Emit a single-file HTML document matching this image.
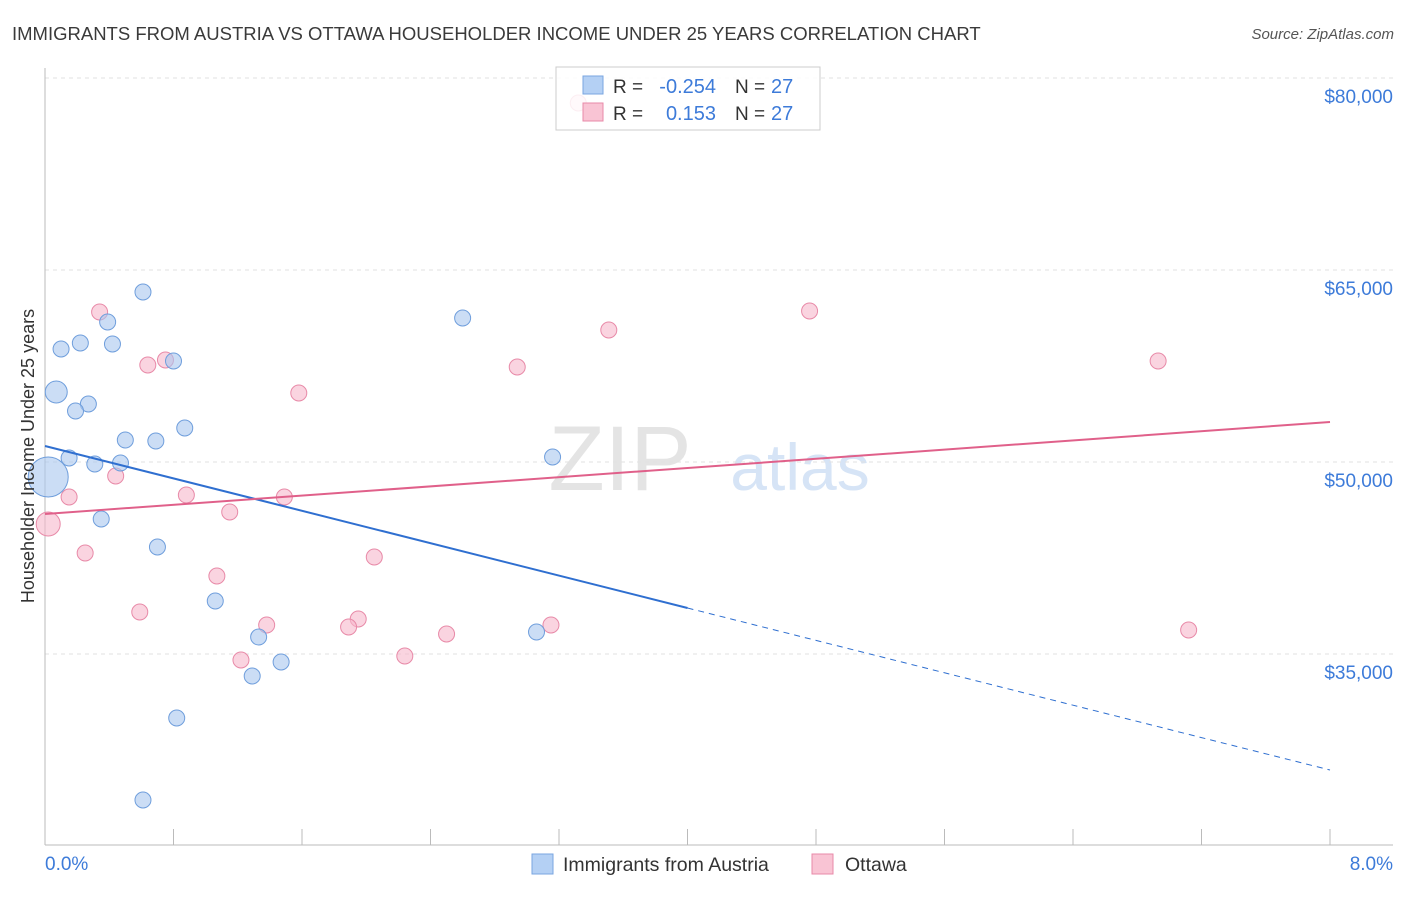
<!DOCTYPE html>
<html><head><meta charset="utf-8"><style>
body{margin:0;background:#fff;font-family:"Liberation Sans",sans-serif}
svg text{font-family:"Liberation Sans",sans-serif}
</style></head><body>
<svg id="c" width="1406" height="892">
<text x="12" y="40" font-size="18.5" fill="#3a3a3a">IMMIGRANTS FROM AUSTRIA VS OTTAWA HOUSEHOLDER INCOME UNDER 25 YEARS CORRELATION CHART</text>
<text x="1394" y="39" font-size="15" font-style="italic" fill="#555" text-anchor="end">Source: ZipAtlas.com</text>
<text x="620" y="490" font-size="92" fill="#e4e4e4" font-family="Liberation Serif" text-anchor="middle">ZIP</text>
<text x="800" y="490" font-size="66" fill="#d6e4f6" text-anchor="middle">atlas</text>
<g id="grid"></g><g id="marks"></g>
<text transform="translate(34,456) rotate(-90)" font-size="18" fill="#333" text-anchor="middle">Householder Income Under 25 years</text>
<text x="45" y="870" font-size="19" fill="#3d7bd9">0.0%</text>
<text x="1393" y="870" font-size="19" fill="#3d7bd9" text-anchor="end">8.0%</text>
<g>
<rect x="556" y="67" width="264" height="63" fill="#fff" fill-opacity="0.85" stroke="#ccc"/>
<rect x="583" y="76" width="20" height="18" fill="#b4d0f4" stroke="#7aa6e0"/>
<rect x="583" y="103" width="20" height="18" fill="#f9c4d4" stroke="#e88aa8"/>
<text x="613" y="93" font-size="19" fill="#333">R =</text>
<text x="716" y="93" font-size="20" fill="#3d7bd9" text-anchor="end">-0.254</text>
<text x="735" y="93" font-size="19" fill="#333">N =</text>
<text x="771" y="93" font-size="20" fill="#3d7bd9">27</text>
<text x="613" y="120" font-size="19" fill="#333">R =</text>
<text x="716" y="120" font-size="20" fill="#3d7bd9" text-anchor="end">0.153</text>
<text x="735" y="120" font-size="19" fill="#333">N =</text>
<text x="771" y="120" font-size="20" fill="#3d7bd9">27</text>
</g>
<g>
<rect x="532" y="854" width="21" height="20" fill="#b4d0f4" stroke="#7aa6e0"/>
<text x="563" y="871" font-size="19.5" fill="#333">Immigrants from Austria</text>
<rect x="812" y="854" width="21" height="20" fill="#f9c4d4" stroke="#e88aa8"/>
<text x="845" y="871" font-size="19.5" fill="#333">Ottawa</text>
</g>
</svg>
<script>
const yTicks=[35000,50000,65000,80000];
const yTickLabels=["$35,000","$50,000","$65,000","$80,000"];
const xTicks=[0,0.8,1.6,2.4,3.2,4.0,4.8,5.6,6.4,7.2,8.0];
const blueX=[0.61,0.39,0.10,0.22,0.42,0.80,0.07,0.27,0.19,0.87,0.50,0.69,0.15,0.31,0.47,0.02,0.35,0.70,1.06,1.33,1.47,1.29,0.82,0.61,2.60,3.16,3.06];
const blueY=[63281,60937,58828,59297,59219,57891,55469,54531,53984,52656,51719,51641,50313,49844,49922,48828,45547,43359,39141,36328,34375,33281,30000,23594,61250,50391,36719];
const blueR=[8,8,8,8,8,8,11,8,8,8,8,8,8,8,8,20,8,8,8,8,8,8,8,8,8,8,8];
const pinkX=[0.34,0.75,0.64,1.58,0.15,0.44,0.88,1.15,1.49,0.02,0.25,1.07,2.05,0.59,1.38,1.95,1.89,1.22,2.24,2.50,3.15,2.94,3.51,4.76,6.93,7.12,3.32];
const pinkY=[61719,57969,57578,55391,47266,48906,47422,46094,47266,45156,42891,41094,42578,38281,37266,37734,37109,34531,34844,36563,37266,57422,60313,61797,57891,36875,78047];
const pinkR=[8,8,8,8,8,8,8,8,8,12,8,8,8,8,8,8,8,8,8,8,8,8,8,8,8,8,8];
const blueLine=[51250,25938]; const blueSolidEnd=4.0;
const pinkLine=[45938,53125];
const X=v=>45+v/8*1285, Y=v=>78+(80000-v)*0.0128;
const NS="http://www.w3.org/2000/svg";
function mk(p,t,a){const e=document.createElementNS(NS,t);for(const k in a)e.setAttribute(k,a[k]);p.appendChild(e);return e;}
const g=document.getElementById('grid'), m=document.getElementById('marks');
yTicks.forEach((v,i)=>{
 const l=mk(g,'line',{x1:45,x2:1393,y1:Y(v),y2:Y(v),stroke:'#e2e2e2','stroke-dasharray':'4,4'});
 
 
 const t=mk(g,'text',{x:1393,y:Y(v)+25,'font-size':19,fill:'#3d7bd9','text-anchor':'end'});t.textContent=yTickLabels[i];
 
 
});
const ya=mk(g,'line',{x1:45,x2:45,y1:68,y2:845,stroke:'#bbb'});


const xa=mk(g,'line',{x1:45,x2:1393,y1:845,y2:845,stroke:'#bbb'});


xTicks.forEach(v=>{const t=mk(g,'line',{x1:X(v),x2:X(v),y1:829,y2:845,stroke:'#bbb'});
 
 });
function pts(xs,ys,rs,fill,stroke,name){xs.forEach((x,i)=>{const c=mk(m,'circle',{cx:X(x),cy:Y(ys[i]),r:rs[i],fill:fill,stroke:stroke,'fill-opacity':0.6,'stroke-width':1});
 
 });}
pts(pinkX,pinkY,pinkR,'#f6b8cb','#e88aa8','ottawa-point');
pts(blueX,blueY,blueR,'#a9c7ef','#6f9edc','austria-point');
const by=x=>blueLine[0]+(blueLine[1]-blueLine[0])*x/8;
const b1=mk(m,'line',{x1:X(0),y1:Y(by(0)),x2:X(blueSolidEnd),y2:Y(by(blueSolidEnd)),stroke:'#2f6fd0','stroke-width':2});


const b2=mk(m,'line',{x1:X(blueSolidEnd),y1:Y(by(blueSolidEnd)),x2:X(8),y2:Y(by(8)),stroke:'#2f6fd0','stroke-width':1,'stroke-dasharray':'6,5'});


const p1=mk(m,'line',{x1:X(0),y1:Y(pinkLine[0]),x2:X(8),y2:Y(pinkLine[1]),stroke:'#e0608a','stroke-width':2});


</script>
</body></html>
